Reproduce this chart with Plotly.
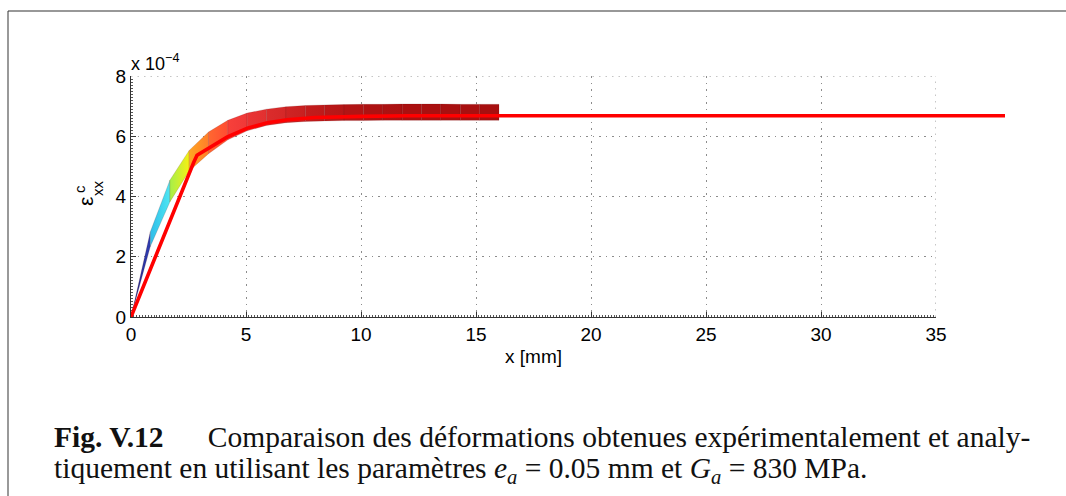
import plotly.graph_objects as go

# Experimental strain envelope (lower / upper edge of the measured surface), x in mm, strain in 1e-4
band_x = [0.0, 0.84, 1.69, 2.53, 3.37, 4.21, 5.05, 5.89, 6.74, 7.58, 8.42,
          9.26, 10.11, 10.95, 11.79, 12.63, 13.47, 14.32, 15.16, 16.0]
band_upper = [0.0, 2.83, 4.54, 5.53, 6.14, 6.53, 6.77, 6.90, 6.98, 7.02, 7.04,
              7.05, 7.06, 7.06, 7.07, 7.07, 7.07, 7.06, 7.06, 7.06]
band_lower = [0.0, 2.34, 3.82, 4.85, 5.42, 5.88, 6.18, 6.36, 6.45, 6.49, 6.51,
              6.52, 6.52, 6.53, 6.53, 6.53, 6.53, 6.53, 6.53, 6.53]

# Analytical strain curve (runs past the end of the axis)
ana_x = [0.0, 2.54, 2.72, 2.87, 3.40, 4.19, 5.06, 5.93, 6.79, 8.0, 10.0, 12.0, 38.0]
ana_y = [0.0, 4.85, 5.12, 5.37, 5.62, 5.98, 6.27, 6.45, 6.55, 6.62, 6.66, 6.68, 6.68]

x_ticks = [0, 5, 10, 15, 20, 25, 30, 35]
y_ticks = [0, 2, 4, 6, 8]
x_max, y_max = 35, 8

# jet-like colouring of the surface facets (start, end of each facet)
seg_colors = [
    ("#242680", "#2f3fb4"),
    ("#2fbde9", "#4fe6f2"),
    ("#a6ef4a", "#f6ef14"),
    ("#ffa622", "#ff7e2a"),
    ("#ff6830", "#ff4c32"),
    ("#f7403a", "#ef3838"),
    ("#ea3434", "#e23030"),
    ("#dc2c2c", "#d42828"),
    ("#cf2424", "#c82020"),
    ("#c41c1c", "#be1a1a"),
    ("#ba1818", "#b51616"),
    ("#b21414", "#b01414"),
    ("#ae1212", "#ad1212"),
    ("#ac1212", "#ab1111"),
    ("#aa1010", "#aa1010"),
    ("#a91010", "#a91010"),
    ("#a81010", "#a81010"),
    ("#a81010", "#a81010"),
    ("#a70f0f", "#a70f0f"),
]

# pixel layout: axes box 131..936 x 76..317, drawing area widened to 1010
L, R_AX, R, T, B = 131, 936, 1010, 76, 317
W, H = R - L, B - T
ax_frac = (R_AX - L) / W


def px(x):
    return (x - L) / W


def py(y):
    return (B - y) / H


fig = go.Figure()

for i in range(len(band_x) - 1):
    xs = [band_x[i], band_x[i + 1], band_x[i + 1], band_x[i], band_x[i]]
    ys = [band_lower[i], band_lower[i + 1], band_upper[i + 1], band_upper[i], band_lower[i]]
    c0, c1 = seg_colors[i]
    fig.add_trace(go.Scatter(
        x=xs, y=ys, mode="lines", fill="toself",
        fillgradient=dict(type="horizontal", colorscale=[[0, c0], [1, c1]]),
        line=dict(color="rgba(90,0,0,0.25)", width=0.6),
        hoverinfo="skip", showlegend=False,
    ))

# analytical curve on a hidden, wider axis pair with the same scale
fig.add_trace(go.Scatter(
    x=ana_x, y=ana_y, mode="lines", xaxis="x2", yaxis="y2",
    line=dict(color="#ff0000", width=3.6),
    showlegend=False,
))

GRID_DASH = "1.5px,5px"
GRID_COLOR = "#8c8c8c"
sans = "Liberation Sans, Arial"
serif = "Liberation Serif, Times New Roman"

axis_common = dict(
    showline=True, linecolor="#333333", linewidth=1,
    ticks="inside", ticklen=5, tickcolor="#333333",
    showgrid=True, gridcolor=GRID_COLOR, gridwidth=1, griddash=GRID_DASH,
    zeroline=False,
    tickfont=dict(family=sans, size=19, color="#000000"),
)

fig.update_layout(
    xaxis=dict(
        domain=[0, ax_frac], range=[0, x_max], tickvals=x_ticks,
        ticktext=[str(v) for v in x_ticks],
        minor=dict(ticks="inside", ticklen=2, dtick=0.125, tickcolor="#555555", showgrid=False),
        **axis_common,
    ),
    yaxis=dict(
        domain=[0, 1], range=[0, y_max], tickvals=y_ticks,
        ticktext=[str(v) for v in y_ticks],
        minor=dict(ticks="inside", ticklen=2, dtick=0.1, tickcolor="#555555", showgrid=False),
        **axis_common,
    ),
    xaxis2=dict(domain=[0, 1], range=[0, x_max / ax_frac], anchor="y2",
                visible=False, showgrid=False, zeroline=False),
    yaxis2=dict(domain=[0, 1], range=[0, y_max], anchor="x2",
                visible=False, showgrid=False, zeroline=False),
)


def note(x, y, text, size, family=sans, angle=0, anchor="center", color="#000"):
    return dict(x=px(x), y=py(y), xref="paper", yref="paper", text=text,
                showarrow=False, textangle=angle, xanchor=anchor, yanchor="middle",
                font=dict(family=family, size=size, color=color))


annotations = [
    note(129, 62, "x 10<sup>−4</sup>", 18, anchor="left"),
    note(533, 356, "x [mm]", 19),
    note(85, 202, "ε", 21, angle=-90),
    note(79, 189, "c", 15, angle=-90),
    note(97, 188, "xx", 15, angle=-90),
    note(52, 437,
         "<b>Fig. V.12</b>      Comparaison des déformations obtenues expérimentalement et analy-",
         29.5, family=serif, anchor="left", color="#111"),
    note(52, 470,
         "tiquement en utilisant les paramètres <i>e</i><sub><i>a</i></sub> = 0.05 mm et "
         "<i>G</i><sub><i>a</i></sub> = 830 MPa.",
         29.5, family=serif, anchor="left", color="#111"),
]

shapes = [
    # outer frame
    dict(type="line", xref="paper", yref="paper", x0=px(8), x1=px(8), y0=py(11), y1=py(520),
         line=dict(color="#555555", width=1.2)),
    dict(type="line", xref="paper", yref="paper", x0=px(8), x1=px(1100), y0=py(11), y1=py(11),
         line=dict(color="#333333", width=1.2)),
    # dotted box edges at the top and right of the axes
    dict(type="line", xref="x", yref="y", x0=0, x1=x_max, y0=y_max, y1=y_max,
         line=dict(color=GRID_COLOR, width=1, dash=GRID_DASH), layer="below"),
    dict(type="line", xref="x", yref="y", x0=x_max, x1=x_max, y0=0, y1=y_max,
         line=dict(color=GRID_COLOR, width=1, dash=GRID_DASH), layer="below"),
]

fig.update_layout(
    width=1066, height=496, autosize=False,
    margin=dict(l=L, r=1066 - R, t=T, b=496 - B),
    paper_bgcolor="white", plot_bgcolor="rgba(0,0,0,0)",
    annotations=annotations, shapes=shapes,
    showlegend=False,
)

fig.write_html("out.html")
